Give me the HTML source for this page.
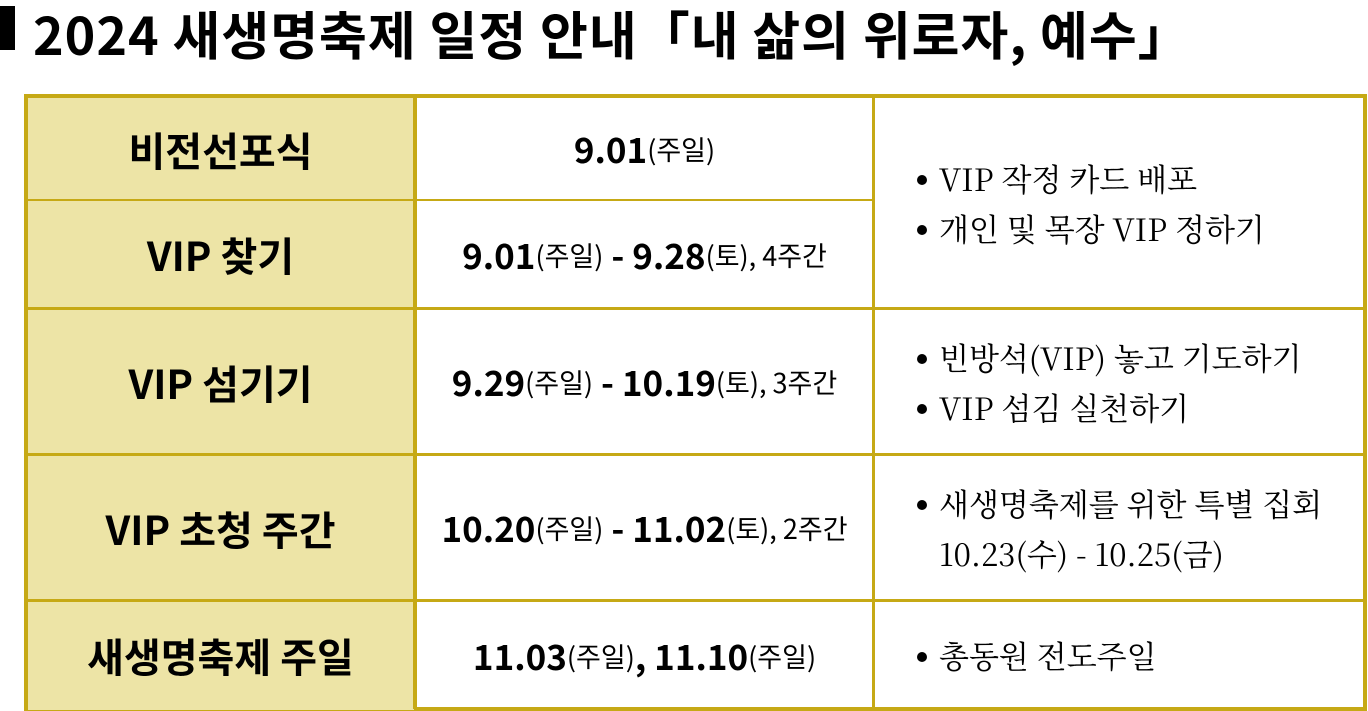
<!DOCTYPE html>
<html><head><meta charset="utf-8"><style>
*{margin:0;padding:0;box-sizing:border-box}
body{width:1368px;height:711px;background:#fff;position:relative;overflow:hidden;font-family:"Liberation Sans","Noto Sans CJK KR",sans-serif;color:#000}
.title{position:absolute;left:0;top:0px;height:66px;white-space:nowrap;font-family:"Noto Sans CJK KR",sans-serif;font-weight:700;font-size:52px;line-height:66px;letter-spacing:1px}
.sq{position:absolute;left:0;top:6px;width:15px;height:44px;background:#000}
.t{position:absolute;border:4px solid #c6a915;left:24px;top:94px;width:1343px;height:617px}
.c{position:absolute;display:flex;align-items:center;justify-content:center;white-space:nowrap}
.l{background:#ede4a6;font-family:"Noto Sans CJK KR",sans-serif;font-weight:700;font-size:40px;letter-spacing:0px}
.m{font-family:"Noto Sans CJK KR",sans-serif;font-size:35px;font-weight:600;letter-spacing:0px}
.m s{text-decoration:none;font-weight:400;font-size:27px}
.r{padding-left:42px;font-family:"Noto Serif CJK KR","Noto Serif CJK SC",serif;font-size:31px;line-height:50px;flex-direction:column;align-items:flex-start;justify-content:center}
.r div{position:relative}
.b::before{content:"";position:absolute;left:-22px;top:22px;width:10px;height:10px;border-radius:50%;background:#000}
.h{position:absolute;background:#c6a915}
</style></head><body>
<div class="sq"></div>
<div class="title" style="left:33px">2024 새생명축제 일정 안내「내 삶의 위로자, 예수」</div>
<div class="t"></div>
<div class="c l" style="left:28px;top:98px;width:386px;height:612px"></div>
<div class="h" style="left:413px;top:96px;width:4px;height:613px"></div>
<div class="h" style="left:872px;top:96px;width:3px;height:613px"></div>
<div class="h" style="left:28px;top:199px;width:846px;height:2px"></div>
<div class="h" style="left:28px;top:307px;width:1336px;height:3px"></div>
<div class="h" style="left:28px;top:453px;width:1336px;height:3px"></div>
<div class="h" style="left:28px;top:599px;width:1336px;height:3px"></div>

<div class="c l" style="left:28px;top:98px;width:385px;height:101px">비전선포식</div>
<div class="c l" style="left:28px;top:201px;width:385px;height:106px">VIP 찾기</div>
<div class="c l" style="left:28px;top:310px;width:385px;height:143px">VIP 섬기기</div>
<div class="c l" style="left:28px;top:456px;width:385px;height:143px">VIP 초청 주간</div>
<div class="c l" style="left:28px;top:602px;width:385px;height:106px">새생명축제 주일</div>

<div class="c m" style="left:417px;top:98px;width:455px;height:101px">9.01<s>(주일)</s></div>
<div class="c m" style="left:417px;top:201px;width:455px;height:106px">9.01<s>(주일)</s>&nbsp;- 9.28<s>(토), 4주간</s></div>
<div class="c m" style="left:417px;top:310px;width:455px;height:143px">9.29<s>(주일)</s>&nbsp;- 10.19<s>(토), 3주간</s></div>
<div class="c m" style="left:417px;top:456px;width:455px;height:143px">10.20<s>(주일)</s>&nbsp;- 11.02<s>(토), 2주간</s></div>
<div class="c m" style="left:417px;top:602px;width:455px;height:106px">11.03<s>(주일)</s>, 11.10<s>(주일)</s></div>

<div class="c r" style="left:897px;top:98px;width:467px;height:209px"><div class="b">VIP 작정 카드 배포</div><div class="b">개인 및 목장 VIP 정하기</div></div>
<div class="c r" style="left:897px;top:310px;width:467px;height:143px"><div class="b">빈방석(VIP) 놓고 기도하기</div><div class="b">VIP 섬김 실천하기</div></div>
<div class="c r" style="left:897px;top:456px;width:467px;height:143px"><div class="b">새생명축제를 위한 특별 집회</div><div>10.23(수) - 10.25(금)</div></div>
<div class="c r" style="left:897px;top:602px;width:467px;height:106px"><div class="b">총동원 전도주일</div></div>
</body></html>
